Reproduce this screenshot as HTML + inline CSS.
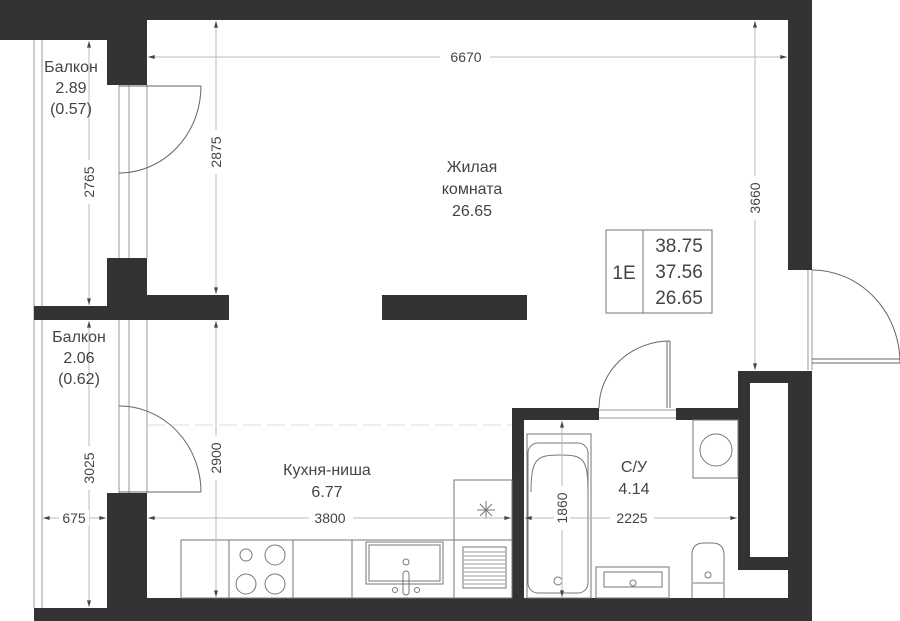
<!DOCTYPE html>
<html><head><meta charset="utf-8"><style>
html,body{margin:0;padding:0;background:#fff;}
svg{display:block;}
text{font-family:"Liberation Sans",sans-serif;fill:#444;}
</style></head><body>
<svg width="900" height="621" viewBox="0 0 900 621" xmlns="http://www.w3.org/2000/svg">
<defs>
<marker id="a" viewBox="0 0 10 6" refX="10" refY="3" markerWidth="8" markerHeight="4" orient="auto-start-reverse"><path d="M0,0 L10,3 L0,6z" fill="#444"/></marker>
</defs>
<!-- thin lines (balcony etc) -->
<g stroke="#999" stroke-width="1" fill="none">
<line x1="34" y1="40" x2="34" y2="608"/>
<line x1="42" y1="40" x2="42" y2="608"/>
<line x1="119" y1="85" x2="119" y2="258"/><line x1="129" y1="85" x2="129" y2="258"/><line x1="147" y1="85" x2="147" y2="258"/>
<line x1="119" y1="320" x2="119" y2="493"/><line x1="129" y1="320" x2="129" y2="493"/><line x1="147" y1="320" x2="147" y2="493"/>
<line x1="808" y1="270" x2="808" y2="370"/><line x1="812" y1="270" x2="812" y2="370"/>
<line x1="599" y1="410" x2="676" y2="410"/><line x1="599" y1="418" x2="676" y2="418"/>
</g>
<!-- doors -->
<g stroke="#666" stroke-width="1" fill="none">
<line x1="119" y1="86" x2="201" y2="86"/><path d="M201,86 A82,87 0 0 1 119,173"/>
<line x1="119" y1="492" x2="201" y2="492"/><path d="M119,406 A82,86 0 0 1 201,492"/>
<line x1="670" y1="341" x2="670" y2="408"/><line x1="667" y1="341" x2="667" y2="408"/><path d="M670,341 A71,67 0 0 0 599,408"/>
<line x1="812" y1="363" x2="900" y2="363"/><line x1="812" y1="359" x2="900" y2="359"/><path d="M812,270 A88,93 0 0 1 900,363"/>
</g>
<!-- walls -->
<g fill="#333">
<rect x="0" y="0" width="812" height="20"/>
<rect x="0" y="0" width="147" height="40"/>
<rect x="788" y="0" width="24" height="270"/>
<rect x="107" y="40" width="40" height="45"/>
<rect x="107" y="258" width="40" height="37"/>
<rect x="107" y="295" width="122" height="25"/>
<rect x="34" y="306" width="73" height="14"/>
<rect x="382" y="295" width="145" height="25"/>
<rect x="107" y="493" width="40" height="128"/>
<rect x="107" y="598" width="705" height="23"/>
<rect x="34" y="608" width="73" height="13"/>
<rect x="512" y="408" width="87" height="12"/>
<rect x="512" y="408" width="12" height="195"/>
<rect x="676" y="408" width="62" height="12"/>
<rect x="738" y="371" width="74" height="199"/>
<rect x="788" y="371" width="24" height="250"/>
</g>
<rect x="750" y="383" width="38" height="174" fill="#fff"/>
<!-- kitchen -->
<g stroke="#777" stroke-width="1" fill="none">
<line x1="147" y1="425" x2="512" y2="425" stroke="#ddd" stroke-dasharray="18,6"/>
<rect x="181" y="540" width="331" height="58"/>
<line x1="229" y1="540" x2="229" y2="598"/><line x1="293" y1="540" x2="293" y2="598"/>
<line x1="352" y1="540" x2="352" y2="598"/><line x1="454" y1="540" x2="454" y2="598"/>
<rect x="454" y="480" width="58" height="60"/>
<path d="M477,510 l18,0 M486,501 l0,18 M480,504 l12,12 M492,504 l-12,12"/>
<circle cx="246" cy="555" r="6"/><circle cx="275" cy="555" r="10"/>
<circle cx="246" cy="584" r="10"/><circle cx="275" cy="584" r="10"/>
<rect x="366" y="542" width="77" height="42"/><rect x="369" y="545" width="71" height="36"/>
<circle cx="406" cy="562" r="3"/><rect x="403" y="571" width="6" height="24" rx="3"/>
<circle cx="395" cy="590" r="2.5"/><circle cx="417" cy="590" r="2.5"/>
<rect x="463" y="547" width="43" height="41"/>
</g>
<g stroke="#777" stroke-width="0.8">
<line x1="464" y1="552" x2="505" y2="552"/><line x1="464" y1="556" x2="505" y2="556"/><line x1="464" y1="560" x2="505" y2="560"/><line x1="464" y1="564" x2="505" y2="564"/><line x1="464" y1="568" x2="505" y2="568"/><line x1="464" y1="572" x2="505" y2="572"/><line x1="464" y1="576" x2="505" y2="576"/><line x1="464" y1="580" x2="505" y2="580"/><line x1="464" y1="584" x2="505" y2="584"/>
</g>
<!-- bathroom -->
<g stroke="#777" stroke-width="1" fill="none">
<rect x="527" y="434" width="64" height="164"/>
<rect x="528" y="443" width="60" height="150" rx="10"/>
<path d="M531,492 C531,458 537,455 560,455 C583,455 588,458 588,492"/>
<circle cx="558" cy="581" r="4"/>
<rect x="693" y="420" width="45" height="58"/><circle cx="716" cy="450" r="16"/>
<rect x="596" y="567" width="73" height="31"/><rect x="604" y="572" width="58" height="15"/>
<circle cx="633" cy="583" r="3"/>
<path d="M692,598 L692,555 Q692,543 704,543 L712,543 Q724,543 724,555 L724,598"/>
<path d="M693,583 L723,583"/><circle cx="708" cy="575" r="3"/>
<rect x="606" y="230" width="106" height="83"/><line x1="643" y1="230" x2="643" y2="313"/>
</g>
<!-- dimension lines -->
<g stroke="#bbb" stroke-width="1" marker-start="url(#a)" marker-end="url(#a)">
<line x1="148" y1="57" x2="787" y2="57"/>
<line x1="216" y1="21" x2="216" y2="294"/>
<line x1="89" y1="41" x2="89" y2="305"/>
<line x1="755" y1="21" x2="755" y2="370"/>
<line x1="216" y1="321" x2="216" y2="597"/>
<line x1="89" y1="321" x2="89" y2="607"/>
<line x1="43" y1="518" x2="106" y2="518"/>
<line x1="148" y1="518" x2="511" y2="518"/>
<line x1="562" y1="421" x2="562" y2="597"/>
<line x1="525" y1="518" x2="737" y2="518"/>
</g>
<g font-size="14" text-anchor="middle">
<rect x="440" y="49" width="50" height="16" fill="#fff"/><text x="466" y="62">6670</text>
<rect x="74" y="518" width="22" height="0" fill="#fff"/>
<rect x="59" y="510" width="30" height="16" fill="#fff"/><text x="74" y="523">675</text>
<rect x="309" y="510" width="44" height="16" fill="#fff"/><text x="330" y="523">3800</text>
<rect x="610" y="510" width="44" height="16" fill="#fff"/><text x="632" y="523">2225</text>
<g fill="#fff"><rect x="208" y="130" width="16" height="44"/><rect x="81" y="160" width="16" height="44"/><rect x="747" y="176" width="16" height="44"/><rect x="208" y="436" width="16" height="44"/><rect x="81" y="446" width="16" height="44"/><rect x="554" y="486" width="16" height="44"/></g>
<text transform="translate(221,152) rotate(-90)">2875</text>
<text transform="translate(94,182) rotate(-90)">2765</text>
<text transform="translate(760,198) rotate(-90)">3660</text>
<text transform="translate(221,458) rotate(-90)">2900</text>
<text transform="translate(94,468) rotate(-90)">3025</text>
<text transform="translate(567,508) rotate(-90)">1860</text>
</g>
<g font-size="16" text-anchor="middle">
<text x="71" y="72">Балкон</text><text x="71" y="93">2.89</text><text x="71" y="114">(0.57)</text>
<text x="79" y="342">Балкон</text><text x="79" y="363">2.06</text><text x="79" y="384">(0.62)</text>
<text x="472" y="172">Жилая</text><text x="472" y="194">комната</text><text x="472" y="216">26.65</text>
<text x="327" y="475">Кухня-ниша</text><text x="327" y="497">6.77</text>
<text x="634" y="472">С/У</text><text x="634" y="494">4.14</text>
</g>
<g font-size="19" text-anchor="middle">
<text x="624" y="279">1E</text>
<text x="679" y="252">38.75</text><text x="679" y="278">37.56</text><text x="679" y="304">26.65</text>
</g>
</svg>
</body></html>
